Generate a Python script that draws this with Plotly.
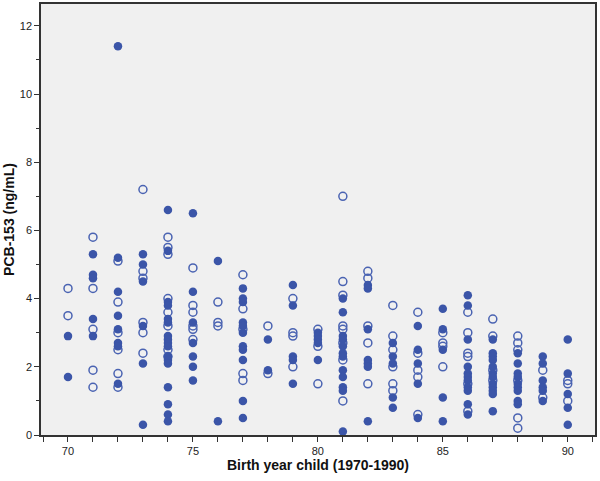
import plotly.graph_objects as go

# Filled-circle series: (birth year, PCB-153)
filled_years = ([70]*2 + [71]*5 + [72]*8 + [73]*6 + [74]*17 + [75]*7 + [76]*2 + [77]*11 +
                [78]*2 + [79]*5 + [80]*5 + [81]*12 + [82]*7 + [83]*5 + [84]*5 + [85]*5 +
                [86]*11 + [87]*12 + [88]*9 + [89]*6 + [90]*5)
filled_values = [
    2.9, 1.7,
    5.3, 4.7, 4.6, 3.4, 2.9,
    11.4, 5.2, 4.2, 3.5, 3.1, 2.7, 2.6, 1.5,
    5.3, 5.0, 4.5, 3.2, 2.1, 0.3,
    6.6, 5.4, 3.9, 3.8, 3.4, 3.3, 2.9, 2.8, 2.7, 2.6, 2.3, 2.2, 2.1, 1.4, 0.9, 0.6, 0.4,
    6.5, 4.2, 3.3, 2.7, 2.3, 2.0, 1.6,
    5.1, 0.4,
    4.3, 4.0, 3.9, 3.3, 3.2, 3.0, 2.6, 2.5, 2.2, 1.0, 0.5,
    2.8, 1.9,
    4.4, 3.8, 2.3, 2.2, 1.5,
    3.0, 2.9, 2.8, 2.7, 2.2,
    4.0, 3.6, 2.9, 2.8, 2.6, 2.4, 2.3, 1.9, 1.7, 1.4, 1.3, 0.1,
    4.4, 4.3, 3.1, 2.2, 2.1, 2.0, 0.4,
    2.7, 2.3, 2.1, 1.1, 0.8,
    3.2, 2.5, 2.1, 1.5, 0.5,
    3.7, 3.1, 2.5, 1.1, 0.4,
    4.1, 3.8, 2.8, 2.0, 1.8, 1.7, 1.6, 1.4, 1.3, 0.9, 0.6,
    2.8, 2.4, 2.3, 2.2, 2.0, 1.8, 1.7, 1.5, 1.4, 1.3, 1.2, 0.7,
    2.4, 2.1, 1.8, 1.7, 1.5, 1.4, 1.3, 1.0, 0.9,
    2.3, 2.1, 1.6, 1.4, 1.3, 1.0,
    2.8, 1.8, 1.2, 0.8, 0.3,
]

# Open-circle series
open_years = ([70]*2 + [71]*5 + [72]*6 + [73]*6 + [74]*8 + [75]*6 + [76]*3 + [77]*5 +
              [78]*2 + [79]*4 + [80]*3 + [81]*8 + [82]*5 + [83]*6 + [84]*5 + [85]*4 +
              [86]*6 + [87]*4 + [88]*6 + [89]*2 + [90]*3)
open_values = [
    4.3, 3.5,
    5.8, 4.3, 3.1, 1.9, 1.4,
    5.1, 3.9, 3.0, 2.5, 1.8, 1.4,
    7.2, 4.8, 4.6, 3.3, 3.0, 2.4,
    5.8, 5.5, 5.3, 4.0, 3.6, 3.2, 2.5, 2.3,
    4.9, 3.8, 3.6, 3.2, 3.1, 2.8,
    3.9, 3.3, 3.2,
    4.7, 3.7, 3.1, 1.8, 1.6,
    3.2, 1.8,
    4.0, 3.0, 2.9, 2.0,
    3.1, 2.6, 1.5,
    7.0, 4.5, 4.1, 3.2, 3.1, 2.7, 2.2, 1.0,
    4.8, 4.6, 3.2, 2.7, 1.5,
    3.8, 2.9, 2.5, 2.0, 1.5, 1.3,
    3.6, 2.4, 1.9, 1.7, 0.6,
    3.0, 2.7, 2.6, 2.0,
    3.6, 3.0, 2.4, 2.3, 1.5, 0.7,
    3.4, 2.9, 1.9, 1.6,
    2.9, 2.7, 2.5, 1.6, 0.5, 0.2,
    1.9, 1.1,
    1.6, 1.5, 1.0,
]

x_tick_vals = list(range(69, 92))
x_tick_text = [str(v) if v % 5 == 0 else "" for v in x_tick_vals]
y_tick_vals = [0, 2, 4, 6, 8, 10, 12]

BLUE = "#3B55A8"

fig = go.Figure()
fig.add_trace(go.Scatter(
    x=open_years, y=open_values, mode="markers", name="open",
    marker=dict(symbol="circle-open", size=8, color="#4A63B2", line=dict(width=1.5)),
    showlegend=False, cliponaxis=False,
))
fig.add_trace(go.Scatter(
    x=filled_years, y=filled_values, mode="markers", name="filled",
    marker=dict(symbol="circle", size=8.5, color=BLUE, line=dict(width=0)),
    showlegend=False, cliponaxis=False,
))

fig.update_layout(
    width=600, height=481,
    margin=dict(l=41, r=5, t=4, b=46),
    paper_bgcolor="white",
    plot_bgcolor="#F0F0F0",
    font=dict(family="Liberation Sans, Arial, sans-serif", color="#222222", size=11),
)
fig.update_xaxes(
    range=[68.92, 91.09], automargin=False,
    tickmode="array", tickvals=x_tick_vals, ticktext=x_tick_text,
    ticks="outside", ticklen=5, tickcolor="#333", tickwidth=1,
    showgrid=False, zeroline=False,
    showline=True, mirror=True, linecolor="#333", linewidth=1.5,
    title=dict(text="<b>Birth year child (1970-1990)</b>",
               font=dict(size=14, color="#111"), standoff=4),
    tickfont=dict(size=11, color="#222"),
)
fig.update_yaxes(
    range=[0, 12.64], automargin=False,
    tickmode="array", tickvals=y_tick_vals,
    ticks="outside", ticklen=5, tickcolor="#333", tickwidth=1,
    minor=dict(tickmode="array", tickvals=[1, 3, 5, 7, 9, 11], ticks="outside",
               ticklen=3, tickcolor="#333"),
    showgrid=False, zeroline=False,
    showline=True, mirror=True, linecolor="#333", linewidth=1.5,
    title=dict(text="<b>PCB-153 (ng/mL)</b>",
               font=dict(size=14, color="#111"), standoff=2),
    tickfont=dict(size=11, color="#222"),
)

fig.write_html("out.html", config={"displayModeBar": False},
               post_script="document.body.style.margin='0';")
